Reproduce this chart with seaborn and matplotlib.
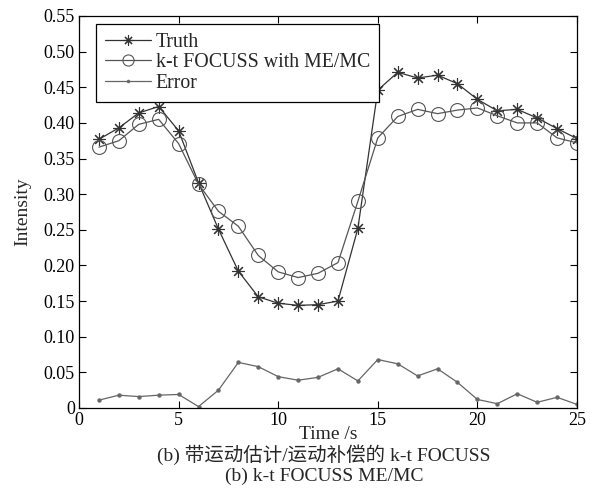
import matplotlib
matplotlib.use("Agg")
import matplotlib.pyplot as plt
import seaborn as sns
from matplotlib.ticker import FixedLocator, FuncFormatter

# Frame index (s) and mean intensity per frame
time_s = [1, 2, 3, 4, 5, 6, 7, 8, 9, 10, 11, 12, 13,
          14, 15, 16, 17, 18, 19, 20, 21, 22, 23, 24, 25]
truth = [0.377, 0.393, 0.414, 0.423, 0.389, 0.316, 0.251, 0.192, 0.156,
         0.147, 0.144, 0.145, 0.150, 0.252, 0.446, 0.471, 0.463, 0.467,
         0.455, 0.433, 0.417, 0.419, 0.407, 0.392, 0.378]
focuss_memc = [0.366, 0.375, 0.398, 0.405, 0.371, 0.314, 0.276, 0.255,
               0.214, 0.191, 0.183, 0.189, 0.204, 0.290, 0.379, 0.409,
               0.419, 0.413, 0.418, 0.421, 0.410, 0.400, 0.400, 0.379,
               0.372]
error = [0.011, 0.018, 0.016, 0.018, 0.019, 0.002, 0.025, 0.064, 0.058,
         0.044, 0.039, 0.043, 0.055, 0.038, 0.068, 0.062, 0.045, 0.055,
         0.036, 0.012, 0.006, 0.020, 0.008, 0.015, 0.005]

x_ticks = [0, 5, 10, 15, 20, 25]
y_ticks = [0, 0.05, 0.10, 0.15, 0.20, 0.25, 0.30, 0.35, 0.40, 0.45, 0.50, 0.55]

sns.set_style("ticks")
plt.rcParams["font.family"] = ["Liberation Serif", "Noto Sans CJK SC", "DejaVu Sans"]

fig = plt.figure(figsize=(5.95, 4.97), dpi=100)
ax = fig.add_axes([79 / 595, 1 - 408 / 497, (577 - 79) / 595, (408 - 16) / 497])

# eight-spoke asterisk marker
asterisk = (8, 2, 0)

sns.lineplot(x=time_s, y=truth, ax=ax, color="#333333", linewidth=0.9,
             marker=asterisk, markersize=9, markeredgecolor="#333333",
             markerfacecolor="#333333", markeredgewidth=0.8, label="Truth")
sns.lineplot(x=time_s, y=focuss_memc, ax=ax, color="#555555", linewidth=0.9,
             marker="o", markersize=10, markeredgecolor="#555555",
             markerfacecolor="none", markeredgewidth=0.8,
             label="k-t FOCUSS with ME/MC")
sns.lineplot(x=time_s, y=error, ax=ax, color="#666666", linewidth=0.9,
             marker="o", markersize=2.8, markeredgecolor="#666666",
             markerfacecolor="#666666", markeredgewidth=0.3, label="Error")

ax.set_xlim(0, 25)
ax.set_ylim(0, 0.55)
ax.xaxis.set_major_locator(FixedLocator(x_ticks))
ax.yaxis.set_major_locator(FixedLocator(y_ticks))
ax.yaxis.set_major_formatter(FuncFormatter(lambda v, p: "0" if abs(v) < 1e-9 else f"{v:.2f}"))
ax.tick_params(direction="in", length=5, width=0.8, top=True, right=True,
               labelsize=13, pad=3, colors="black")
for s in ax.spines.values():
    s.set_visible(True)
    s.set_linewidth(0.9)
    s.set_color("black")

ax.set_xlabel("Time /s", fontsize=14)
ax.xaxis.set_label_coords(0.5, -0.045)
ax.set_ylabel("Intensity", fontsize=14, labelpad=9)

leg = ax.legend(loc="upper left", bbox_to_anchor=(0.034, 0.98), fontsize=14.3,
                frameon=True, fancybox=False, edgecolor="black", framealpha=1,
                handlelength=2.3, handletextpad=0.25, labelspacing=0.08,
                borderpad=0.45, borderaxespad=0, markerscale=0.8)
leg.get_frame().set_linewidth(0.9)

fig.text(324 / 595, 1 - 455 / 497, "(b) 带运动估计/运动补偿的 k-t FOCUSS",
         ha="center", va="center", fontsize=14)
fig.text(324 / 595, 1 - 476 / 497, "(b) k-t FOCUSS ME/MC",
         ha="center", va="center", fontsize=14)

fig.savefig("out.png", dpi=100, facecolor="white")
